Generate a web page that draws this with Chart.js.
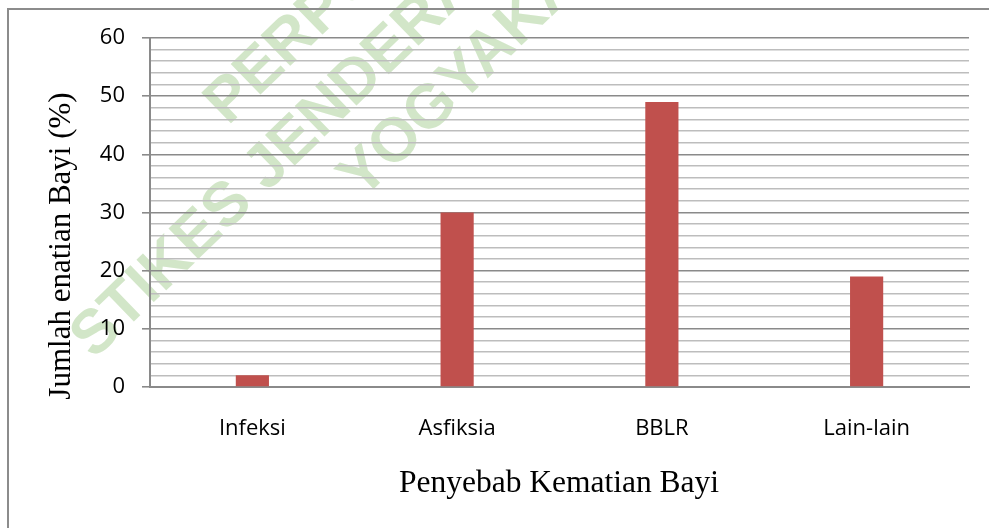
<!DOCTYPE html>
<html>
<head>
<meta charset="utf-8">
<script src="https://cdn.jsdelivr.net/npm/chart.js@4"></script>
<style>
  body { margin: 0; background: #fff; }
  #wrap { width: 989px; height: 528px; position: relative; }
</style>
</head>
<body>
<div id="wrap"><canvas id="chart"></canvas></div>
<script>
// Data
const categories = ["Infeksi", "Asfiksia", "BBLR", "Lain-lain"];
const percentValues = [2, 30, 49, 19];
const yMin = 0;
const yMax = 60;
const yStep = 2; // minor grid every 2, labels every 10

const xTitle = "Penyebab Kematian Bayi";
const yTitle = "Jumlah enatian Bayi (%)";
const watermarkLines = ["PERPUSTAKAAN", "STIKES JENDERAL ACHMAD YANI", "YOGYAKARTA"];

const majorGrid = "#8a8a8a";
const minorGrid = "#bdbdbd";

function isMajor(v) {
  return v % 10 === 0;
}

// background, frame and the faded watermark (under the grid)
const backdrop = {
  id: "backdrop",
  beforeDraw(chart) {
    const ctx = chart.ctx;
    ctx.save();
    ctx.fillStyle = "#fff";
    ctx.fillRect(0, 0, chart.width, chart.height);

    ctx.fillStyle = "#d2e6c8";
    ctx.font = "bold 62px 'Liberation Sans', Arial, sans-serif";
    ctx.textAlign = "left";
    ctx.textBaseline = "middle";
    const starts = [[216, 114], [82, 348], [350, 188]];
    watermarkLines.forEach((t, i) => {
      ctx.save();
      ctx.translate(starts[i][0], starts[i][1]);
      ctx.rotate(-0.77);
      ctx.fillText(t, 0, 0);
      ctx.restore();
    });

    ctx.strokeStyle = "#8c8c8c";
    ctx.lineWidth = 2;
    ctx.strokeRect(8, 9, 2000, 2000);
    ctx.restore();
  },
  afterDraw(chart) {
    const ctx = chart.ctx;
    ctx.save();
    ctx.fillStyle = "#000";
    ctx.textAlign = "center";
    ctx.textBaseline = "middle";
    ctx.font = "31.5px 'Liberation Serif', 'Times New Roman', serif";
    ctx.fillText(xTitle, 559, 484);
    ctx.translate(62, 246);
    ctx.rotate(-Math.PI / 2);
    ctx.font = "31px 'Liberation Serif', 'Times New Roman', serif";
    ctx.fillText(yTitle, 0, 0);
    ctx.restore();
  },
};

new Chart(document.getElementById("chart"), {
  type: "bar",
  data: {
    labels: categories,
    datasets: [
      {
        data: percentValues,
        backgroundColor: "#c0504d",
        borderWidth: 0,
        barPercentage: 1,
        categoryPercentage: 0.162,
      },
    ],
  },
  options: {
    responsive: true,
    maintainAspectRatio: false,
    animation: false,
    layout: { padding: { left: 0, right: 20, top: 38, bottom: 0 } },
    plugins: {
      legend: { display: false },
      tooltip: { enabled: false },
    },
    scales: {
      x: {
        afterFit: (scale) => {
          scale.height = 141;
        },
        grid: { display: false, drawTicks: false },
        border: { display: true, color: majorGrid, width: 2 },
        ticks: {
          padding: 29,
          color: "#000",
          font: { family: "'Open Sans'", size: 22 },
          maxRotation: 0,
        },
      },
      y: {
        min: yMin,
        max: yMax,
        afterFit: (scale) => {
          scale.width = 150;
        },
        border: { display: true, color: majorGrid, width: 2 },
        grid: {
          color: (c) => (isMajor(c.tick.value) ? majorGrid : minorGrid),
          lineWidth: 1.6,
          tickLength: 8,
          tickColor: (c) => (isMajor(c.tick.value) ? majorGrid : "rgba(0,0,0,0)"),
        },
        ticks: {
          stepSize: yStep,
          autoSkip: false,
          padding: 17,
          color: "#000",
          font: { family: "'Open Sans'", size: 22 },
          callback: (v) => (isMajor(v) ? v : ""),
        },
      },
    },
  },
  plugins: [backdrop],
});
</script>
</body>
</html>
